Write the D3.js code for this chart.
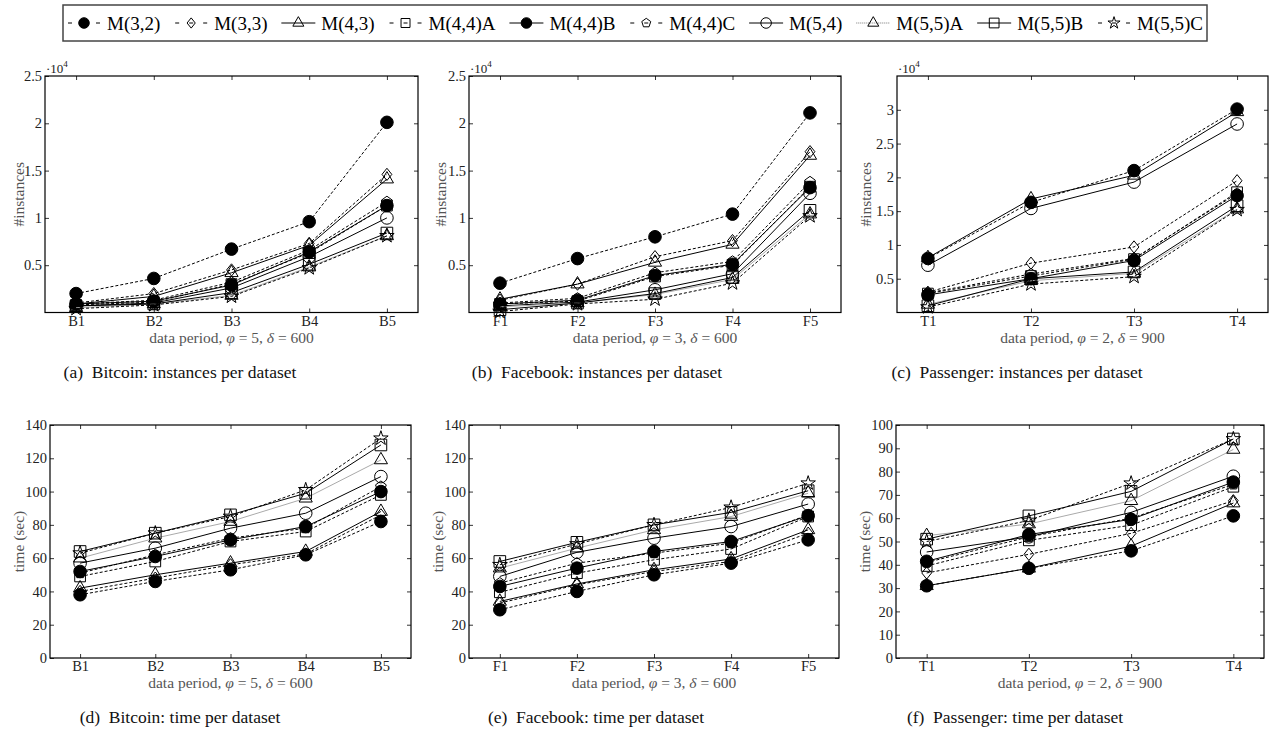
<!DOCTYPE html>
<html>
<head>
<meta charset="utf-8">
<script src="https://cdn.jsdelivr.net/npm/d3@7"></script>
<style>
  body { margin: 0; background: #fff; }
  svg text { font-family: "Liberation Serif", "DejaVu Serif", serif; }
</style>
</head>
<body>
<svg id="chart" width="1271" height="731"></svg>
<script>
// series, in legend order
const seriesNames = ["M(3,2)", "M(3,3)", "M(4,3)", "M(4,4)A", "M(4,4)B", "M(4,4)C", "M(5,4)", "M(5,5)A", "M(5,5)B", "M(5,5)C"];

const bitcoinLabels = ["B1", "B2", "B3", "B4", "B5"];
const facebookLabels = ["F1", "F2", "F3", "F4", "F5"];
const passengerLabels = ["T1", "T2", "T3", "T4"];

// #instances, one row per series
const bitcoinInstances = [
  [2000, 3600, 6700, 9600, 20100],
  [1000, 2000, 4500, 7300, 14600],
  [900, 1700, 4200, 7100, 14100],
  [800, 1100, 3000, 6300, 11300],
  [900, 1200, 2900, 6400, 11300],
  [900, 1300, 3200, 6600, 11700],
  [700, 1000, 2600, 5900, 10000],
  [500, 900, 1800, 4800, 8100],
  [700, 900, 2100, 5100, 8400],
  [400, 800, 1700, 4700, 8100]
];
const facebookInstances = [
  [3100, 5700, 8000, 10400, 21100],
  [1300, 3000, 5900, 7600, 17000],
  [1400, 3000, 5300, 7200, 16600],
  [900, 1200, 3800, 5000, 13300],
  [900, 1300, 3900, 5100, 13200],
  [1000, 1500, 4200, 5400, 13800],
  [700, 1100, 2400, 4100, 12600],
  [600, 1000, 1900, 3500, 10400],
  [300, 1000, 2000, 3700, 10800],
  [100, 900, 1400, 3100, 10200]
];
const passengerInstances = [
  [8000, 16300, 21000, 30100],
  [3000, 7300, 9700, 19500],
  [8100, 16800, 20300, 29700],
  [2800, 5400, 7900, 17800],
  [2600, 5000, 7700, 17300],
  [2900, 5700, 8000, 17600],
  [7000, 15400, 19300, 27900],
  [1200, 4700, 5800, 15300],
  [1000, 5000, 6000, 15800],
  [800, 4200, 5300, 15200]
];

// time (sec)
const bitcoinTime = [
  [38, 46, 53, 62, 82],
  [40, 48, 56, 62.5, 86],
  [42, 50, 57, 64, 88],
  [49, 58, 70, 76, 98],
  [52, 61, 71, 79, 100],
  [51, 62, 72, 78, 103],
  [57, 66, 78, 87, 109],
  [60, 72, 82, 96, 119],
  [64, 75, 86, 99, 128],
  [63, 75, 85, 101, 132]
];
const facebookTime = [
  [29, 40, 50, 57, 71],
  [33, 44, 52, 58, 75],
  [34, 44.5, 53, 59.5, 77],
  [39.5, 51, 59, 65.5, 85],
  [43, 54, 64, 70, 85.5],
  [45, 57, 63, 69, 86],
  [49, 63.5, 72, 79, 92.5],
  [54, 66, 77, 85, 99],
  [58, 69.5, 80, 87.5, 100.5],
  [56, 68.5, 80, 90.5, 105]
];
const passengerTime = [
  [31, 38.5, 46, 61],
  [36.5, 44.5, 53.5, 67.5],
  [31, 38.5, 48, 66.5],
  [39.5, 50.5, 57, 73.5],
  [41.5, 53, 59.5, 75.5],
  [41, 52, 60, 74.5],
  [45.5, 52, 62.5, 78],
  [52.5, 57.5, 67.5, 89.5],
  [51, 61, 71.5, 94],
  [50, 59, 75, 94]
];

const instTicks = [5000, 10000, 15000, 20000, 25000];
const instTicksT = [5000, 10000, 15000, 20000, 25000, 30000];
const timeTicks = [0, 20, 40, 60, 80, 100, 120, 140];
const timeTicksT = [0, 10, 20, 30, 40, 50, 60, 70, 80, 90, 100];

// pentagon marker (matplotlib "p")
const symbolPentagon = {
  draw(ctx, size) {
    const r = Math.sqrt(size / 2.378);
    for (let i = 0; i < 5; i++) {
      const a = -Math.PI / 2 + i * 2 * Math.PI / 5;
      const px = r * Math.cos(a), py = r * Math.sin(a);
      if (i) ctx.lineTo(px, py); else ctx.moveTo(px, py);
    }
    ctx.closePath();
  }
};
// diamond a bit wider than d3's
const symbolRhomb = {
  draw(ctx, size) {
    const h = Math.sqrt(size / 1.6), w = h * 0.8;
    ctx.moveTo(0, -h); ctx.lineTo(w, 0); ctx.lineTo(0, h); ctx.lineTo(-w, 0); ctx.closePath();
  }
};

const styles = [
  { dash: "3,2", line: "#000", sym: d3.symbolCircle, size: 125, fill: "#000" },
  { dash: "3,2", line: "#000", sym: symbolRhomb, size: 60, fill: "none" },
  { dash: null, line: "#000", sym: d3.symbolTriangle, size: 75, fill: "none" },
  { dash: "3,2", line: "#000", sym: d3.symbolSquare, size: 115, fill: "none" },
  { dash: null, line: "#000", sym: d3.symbolCircle, size: 125, fill: "#000" },
  { dash: "3,2", line: "#000", sym: symbolPentagon, size: 75, fill: "none" },
  { dash: null, line: "#000", sym: d3.symbolCircle, size: 125, fill: "none" },
  { dash: "1,1", line: "#aaa", sym: d3.symbolTriangle, size: 75, fill: "none" },
  { dash: null, line: "#000", sym: d3.symbolSquare, size: 135, fill: "none" },
  { dash: "3,2", line: "#000", sym: d3.symbolStar, size: 65, fill: "none" }
];

const svg = d3.select("#chart");

const panels = [
  { x: 45, y: 76, w: 373, h: 236.5, capX: 180, cats: bitcoinLabels, vals: bitcoinInstances, yMax: 25000, ticks: instTicks, exp: true, ylab: "#instances", ylx: -26, phi: 5, delta: 600, cap: "(a)", capText: "Bitcoin: instances per dataset" },
  { x: 469, y: 76, w: 372, h: 236.5, capX: 597, cats: facebookLabels, vals: facebookInstances, yMax: 25000, ticks: instTicks, exp: true, ylab: "#instances", ylx: -28, phi: 3, delta: 600, cap: "(b)", capText: "Facebook: instances per dataset" },
  { x: 897, y: 76, w: 371, h: 236.5, capX: 1017, cats: passengerLabels, vals: passengerInstances, yMax: 35000, ticks: instTicksT, exp: true, ylab: "#instances", ylx: -31, phi: 2, delta: 900, cap: "(c)", capText: "Passenger: instances per dataset" },
  { x: 50, y: 425, w: 361, h: 233, capX: 180, cats: bitcoinLabels, vals: bitcoinTime, yMax: 140, ticks: timeTicks, exp: false, ylab: "time (sec)", ylx: -31, phi: 5, delta: 600, cap: "(d)", capText: "Bitcoin: time per dataset" },
  { x: 469, y: 425, w: 370, h: 233, capX: 596, cats: facebookLabels, vals: facebookTime, yMax: 140, ticks: timeTicks, exp: false, ylab: "time (sec)", ylx: -31, phi: 3, delta: 600, cap: "(e)", capText: "Facebook: time per dataset" },
  { x: 896, y: 425, w: 368, h: 233, capX: 1015, cats: passengerLabels, vals: passengerTime, yMax: 100, ticks: timeTicksT, exp: false, ylab: "time (sec)", ylx: -31, phi: 2, delta: 900, cap: "(f)", capText: "Passenger: time per dataset" }
];

function drawPanel(p) {
  const g = svg.append("g").attr("transform", `translate(${p.x},${p.y})`);
  const n = p.cats.length;
  const pad = 0.1 * (n - 1);
  const x = d3.scaleLinear().domain([1 - pad, n + pad]).range([0, p.w]);
  const y = d3.scaleLinear().domain([0, p.yMax]).range([p.h, 0]);
  const idx = d3.range(1, n + 1);

  const fmt = p.exp ? (d => d3.format("~g")(d / 10000)) : d3.format("d");

  const axes = [
    g.append("g").attr("transform", `translate(0,${p.h})`)
      .call(d3.axisBottom(x).tickValues(idx).tickFormat(i => p.cats[i - 1]).tickSize(-4).tickPadding(3)),
    g.append("g").call(d3.axisTop(x).tickValues(idx).tickFormat("").tickSize(-4)),
    g.append("g").call(d3.axisLeft(y).tickValues(p.ticks).tickFormat(fmt).tickSize(-4).tickPadding(3)),
    g.append("g").attr("transform", `translate(${p.w},0)`)
      .call(d3.axisRight(y).tickValues(p.ticks).tickFormat("").tickSize(-4))
  ];
  axes.forEach(a => {
    a.attr("font-family", null).attr("font-size", null);
    a.select(".domain").remove();
    a.selectAll(".tick line").attr("stroke", "#000").attr("stroke-width", 0.8);
    a.selectAll(".tick text").attr("fill", "#222").style("font-size", "14.5px");
  });

  g.append("rect").attr("width", p.w).attr("height", p.h)
    .attr("fill", "none").attr("stroke", "#000").attr("stroke-width", 1.2);

  const line = d3.line().x((d, i) => x(i + 1)).y(d => y(d));
  p.vals.forEach((row, s) => {
    const st = styles[s];
    // the gray series reads as a thin solid gray line inside the plots
    const gray = st.dash === "1,1";
    g.append("path").datum(row).attr("d", line)
      .attr("fill", "none").attr("stroke", st.line).attr("stroke-width", 1)
      .attr("stroke-dasharray", gray ? null : st.dash);
    g.append("g").selectAll("path").data(row).join("path")
      .attr("transform", (d, i) => `translate(${x(i + 1)},${y(d)})`)
      .attr("d", d3.symbol().type(st.sym).size(st.size))
      .attr("fill", st.fill).attr("stroke", "#000").attr("stroke-width", 1);
  });

  if (p.exp) {
    const t = g.append("text").attr("x", 1).attr("y", -3).attr("fill", "#222").style("font-size", "13px");
    t.append("tspan").text("\u00b710");
    t.append("tspan").attr("dy", -6).style("font-size", "9px").text("4");
  }

  g.append("text")
    .attr("transform", `translate(${p.ylx},${p.h / 2}) rotate(-90)`)
    .attr("text-anchor", "middle").attr("dy", "0.35em")
    .attr("fill", "#555").style("font-size", "15.5px").text(p.ylab);

  const xl = g.append("text").attr("x", p.w / 2).attr("y", p.h + 30)
    .attr("text-anchor", "middle").attr("fill", "#555").style("font-size", "15.5px");
  xl.append("tspan").text("data period, ");
  xl.append("tspan").attr("font-style", "italic").text("\u03c6");
  xl.append("tspan").text(` = ${p.phi}, `);
  xl.append("tspan").attr("font-style", "italic").text("\u03b4");
  xl.append("tspan").text(` = ${p.delta}`);

  svg.append("text").attr("x", p.capX).attr("y", p.y + p.h + 65)
    .attr("text-anchor", "middle").attr("fill", "#111").style("font-size", "17.5px")
    .text(p.cap + "\u2002" + p.capText);
}

panels.forEach(drawPanel);

// legend
const lg = svg.append("g");
const boxX = 63, boxY = 5, boxW = 1144, boxH = 36;
lg.append("rect").attr("x", boxX).attr("y", boxY).attr("width", boxW).attr("height", boxH)
  .attr("fill", "#fff").attr("stroke", "#444").attr("stroke-width", 1.5);

const items = lg.selectAll("g.item").data(seriesNames).join("g").attr("class", "item");
items.append("text").attr("class", "lt").attr("y", boxY + boxH / 2).attr("dy", "0.35em")
  .attr("fill", "#000").style("font-size", "19px").text(d => d);
const widths = [];
items.select("text.lt").each(function () { widths.push(this.getComputedTextLength()); });
const sampleW = 34, textGap = 6;
const inner = boxW - 8;
const gap = (inner - d3.sum(widths) - seriesNames.length * (sampleW + textGap)) / (seriesNames.length - 1);
let cx = boxX + 4;
items.each(function (d, i) {
  const it = d3.select(this);
  const st = styles[i];
  const cy = boxY + boxH / 2;
  it.insert("line", "text").attr("x1", cx).attr("x2", cx + sampleW).attr("y1", cy).attr("y2", cy)
    .attr("stroke", st.dash === "1,1" ? "#777" : st.line).attr("stroke-width", 1)
    .attr("stroke-dasharray", st.dash ? (st.dash === "1,1" ? "1,1" : "4,10") : null)
    .attr("stroke-dashoffset", st.dash && st.dash !== "1,1" ? -1 : 0);
  it.insert("path", "text").attr("transform", `translate(${cx + sampleW / 2},${cy})`)
    .attr("d", d3.symbol().type(st.sym).size(st.size * 0.7))
    .attr("fill", st.fill).attr("stroke", "#000").attr("stroke-width", 1);
  it.select("text.lt").attr("x", cx + sampleW + textGap);
  cx += sampleW + textGap + widths[i] + gap;
});
</script>
</body>
</html>
